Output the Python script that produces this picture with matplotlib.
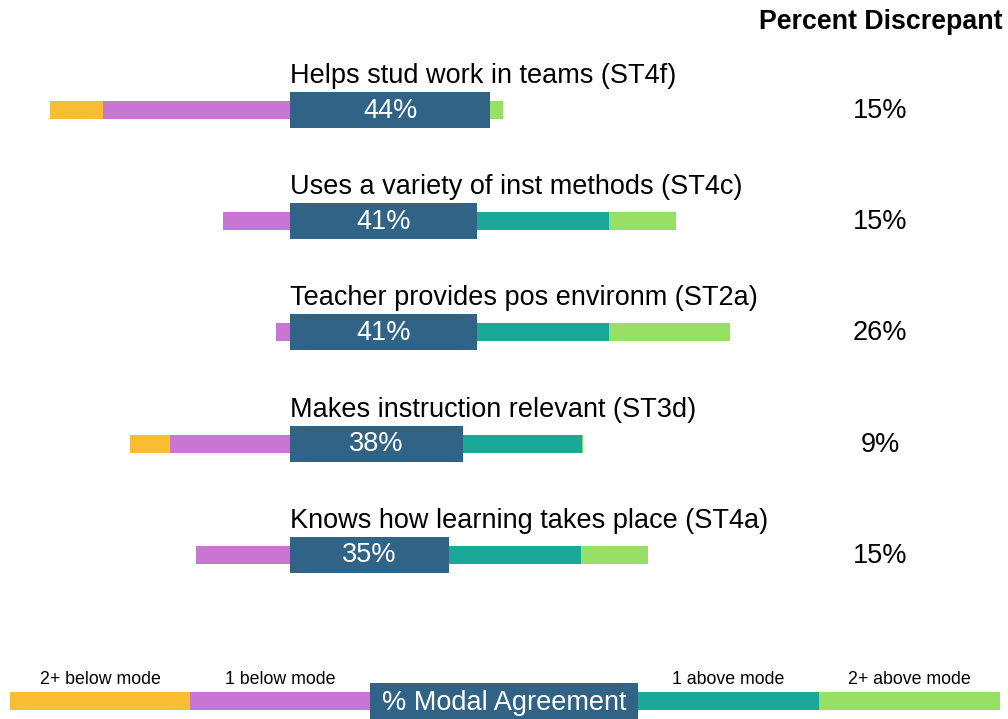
import matplotlib
matplotlib.use("Agg")
import matplotlib.pyplot as plt

plt.rcParams['font.family'] = ['Liberation Sans', 'DejaVu Sans']

items = ["Helps stud work in teams (ST4f)",
         "Uses a variety of inst methods (ST4c)",
         "Teacher provides pos environm (ST2a)",
         "Makes instruction relevant (ST3d)",
         "Knows how learning takes place (ST4a)"]
below2 = [11.7, 0.0, 0.0, 8.8, 0.0]
below1 = [41.1, 14.7, 3.1, 26.4, 20.7]
modal = [44, 41, 41, 38, 35]
above1 = [0.0, 29.2, 29.2, 26.2, 29.0]
above2 = [2.8, 14.7, 26.4, 0.3, 14.7]
discrepant = ["15%", "15%", "26%", "9%", "15%"]
modal_labels = ["44%", "41%", "41%", "38%", "35%"]

legend_labels = ["2+ below mode", "1 below mode", "% Modal Agreement", "1 above mode", "2+ above mode"]

C_B2 = "#f8bd33"
C_B1 = "#c875d4"
C_M = "#306386"
C_A1 = "#1aa898"
C_A2 = "#97e065"

W, H = 1008, 719
fig = plt.figure(figsize=(W / 100, H / 100), dpi=100)
ax = fig.add_axes([0, 0, 1, 1])
scale = 4.55  # px per percent
x0 = 290
ax.set_xlim(-x0 / scale, (W - x0) / scale)
ax.set_ylim(H, 0)
ax.axis("off")

ys = [110 + 111.2 * i for i in range(len(items))]
thin = 18
thick = 36
FS = 19.5

for i, y in enumerate(ys):
    ax.barh(y, -below1[i], left=0, height=thin, color=C_B1, linewidth=0)
    ax.barh(y, -below2[i], left=-below1[i], height=thin, color=C_B2, linewidth=0)
    ax.barh(y, above1[i], left=modal[i], height=thin, color=C_A1, linewidth=0)
    ax.barh(y, above2[i], left=modal[i] + above1[i], height=thin, color=C_A2, linewidth=0)
    ax.barh(y, modal[i], left=0, height=thick, color=C_M, linewidth=0)
    ax.text(modal[i] / 2, y + 0.5, modal_labels[i], color="white", fontsize=FS,
            ha="center", va="center")
    ax.text(0, y - 34, items[i], color="black", fontsize=FS, ha="left", va="center")
    ax.text((880 - x0) / scale, y + 1, discrepant[i], color="black", fontsize=FS,
            ha="center", va="center")

ax.text((1003 - x0) / scale, 22, "Percent Discrepant", fontsize=19.3, fontweight="bold",
        ha="right", va="center")

# legend strip
lax = fig.add_axes([0, 0, 1, 1])
lax.set_xlim(0, W)
lax.set_ylim(H, 0)
lax.axis("off")
lax.patch.set_alpha(0)
seg_w = [180, 180, 268, 181, 181]
seg_c = [C_B2, C_B1, C_M, C_A1, C_A2]
left = 10
ly = 700.5
for j, (w, c, lab) in enumerate(zip(seg_w, seg_c, legend_labels)):
    if j == 2:
        lax.barh(ly + 0.5, w, left=left, height=36, color=c, linewidth=0, zorder=3)
        lax.text(left + w / 2, ly + 2, lab, color="white", fontsize=FS,
                 ha="center", va="center", zorder=4)
    else:
        lax.barh(ly, w, left=left, height=18, color=c, linewidth=0)
        lax.text(left + w / 2, 679, lab, color="black", fontsize=12.8,
                 ha="center", va="center")
    left += w

fig.savefig("out.png", dpi=100)
